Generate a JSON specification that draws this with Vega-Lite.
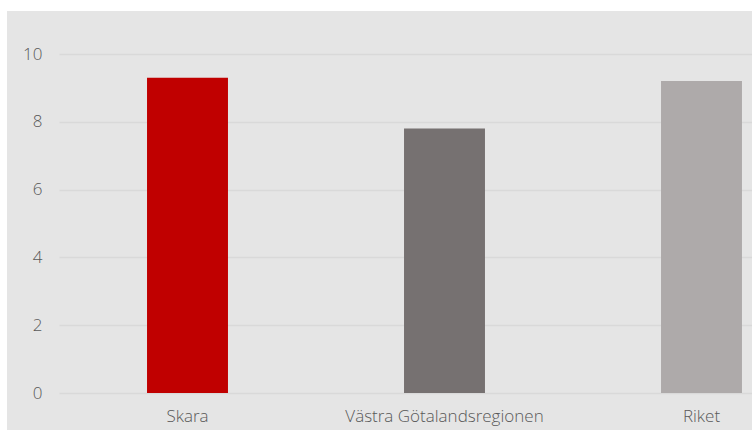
{
  "$schema": "https://vega.github.io/schema/vega-lite/v6.json",
  "width": 745,
  "height": 419,
  "autosize": {"type": "none"},
  "padding": {"left": 7, "top": 11, "right": 0, "bottom": 0},
  "background": "#ffffff",
  "config": {
    "view": {"fill": "#e5e5e5", "stroke": null},
    "font": "Open Sans"
  },
  "data": {
    "values": [
      {"region": "Skara", "value": 9.3},
      {"region": "Västra Götalandsregionen", "value": 7.8},
      {"region": "Riket", "value": 9.2}
    ]
  },
  "mark": {"type": "bar"},
  "encoding": {
    "x": {
      "field": "region",
      "type": "nominal",
      "sort": null,
      "scale": {"range": [52, 823], "paddingInner": 0.685, "paddingOuter": 0.3425},
      "axis": {
        "title": null,
        "labelAngle": 0,
        "ticks": false,
        "domain": false,
        "labelPadding": 15,
        "labelLimit": 0,
        "labelFontSize": 17,
        "labelFontWeight": 300,
        "labelColor": "#595959",
        "offset": -37
      }
    },
    "y": {
      "field": "value",
      "type": "quantitative",
      "scale": {"domain": [0, 10], "range": [382, 43], "nice": false},
      "axis": {
        "title": null,
        "values": [0, 2, 4, 6, 8, 10],
        "ticks": false,
        "domain": false,
        "labelPadding": 0,
        "offset": -35,
        "labelFontSize": 17,
        "labelFontWeight": 300,
        "labelColor": "#595959",
        "gridColor": "#d9d9d9",
        "gridWidth": 1.5
      }
    },
    "color": {
      "field": "region",
      "type": "nominal",
      "sort": null,
      "scale": {"range": ["#c00000", "#767171", "#aeaaaa"]},
      "legend": null
    }
  }
}
